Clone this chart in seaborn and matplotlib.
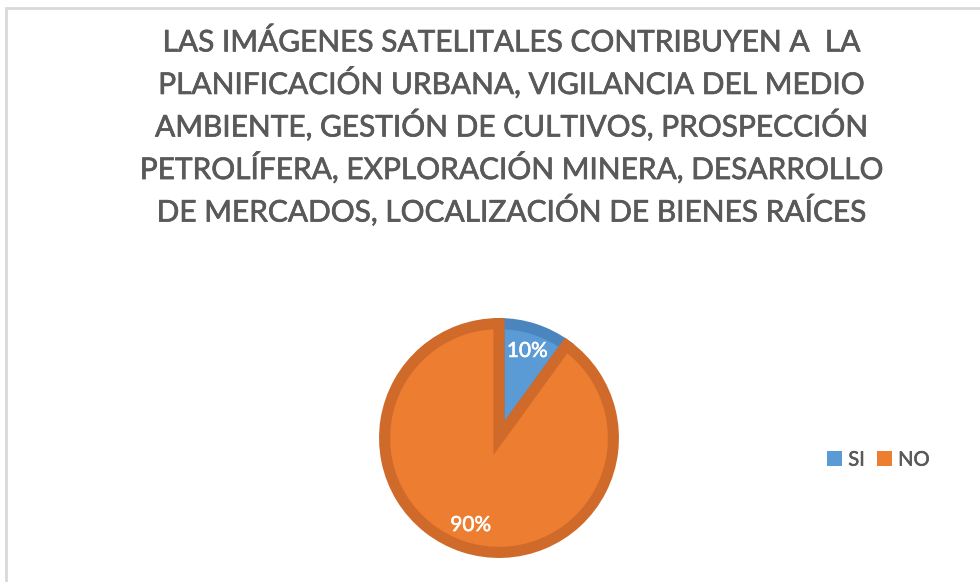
import matplotlib
matplotlib.use('Agg')
import matplotlib.pyplot as plt
import matplotlib.patheffects as pe
import seaborn as sns
from matplotlib.patches import Rectangle, Patch

# data
labels = ['SI', 'NO']
values = [10, 90]
face_colors = ['#5B9BD5', '#ED7D31']
edge_colors = ['#4A85BE', '#D06A2A']

title = ('LAS IMÁGENES SATELITALES CONTRIBUYEN A  LA\n'
         'PLANIFICACIÓN URBANA, VIGILANCIA DEL MEDIO\n'
         'AMBIENTE, GESTIÓN DE CULTIVOS, PROSPECCIÓN\n'
         'PETROLÍFERA, EXPLORACIÓN MINERA, DESARROLLO\n'
         'DE MERCADOS, LOCALIZACIÓN DE BIENES RAÍCES')

sns.set_theme(style='white')
plt.rcParams['font.family'] = ['Lato', 'DejaVu Sans']

fig = plt.figure(figsize=(9.8, 5.82), dpi=100)
W, H = 980, 582

# chart frame (light gray border, right/bottom run off the image)
fig.patches.append(Rectangle((6 / W, -0.05), 1.1, 1.05 - 8 / H, transform=fig.transFigure,
                             fill=False, edgecolor='#D9D9D9', linewidth=2))

thick = [pe.withStroke(linewidth=0.5, foreground='#595959')]
fig.text(512 / W, 1 - 127 / H, title, ha='center', va='center',
         fontsize=21.5, color='#595959', linespacing=1.33, path_effects=thick)

r_px = 120
lw = 8
ax = fig.add_axes([(499 - r_px) / W, 1 - (438 + r_px) / H, 2 * r_px / W, 2 * r_px / H])
wedges, texts, autotexts = ax.pie(
    values, colors=face_colors, startangle=90, counterclock=False,
    autopct='%1.0f%%', pctdistance=0.8, radius=1 - lw * 0.7 / r_px,
    wedgeprops=dict(linewidth=lw, joinstyle='miter'),
    textprops=dict(color='white', fontsize=15,
                   path_effects=[pe.withStroke(linewidth=0.4, foreground='white')]))
for w, ec in zip(wedges, edge_colors):
    w.set_edgecolor(ec)
ax.set_xlim(-1, 1)
ax.set_ylim(-1, 1)
ax.set_aspect('equal')
ax.axis('off')

handles = [Patch(facecolor=c, edgecolor='none') for c in face_colors]
leg = fig.legend(handles, labels, loc='center left', bbox_to_anchor=(809 / W, 1 - 460 / H),
                 ncol=2, frameon=False, fontsize=14.5, handlelength=0.75, handleheight=0.75,
                 handletextpad=0.3, columnspacing=0.6, labelcolor='#595959')
for t in leg.get_texts():
    t.set_path_effects([pe.withStroke(linewidth=0.4, foreground='#595959')])

fig.savefig('out.png', dpi=100)
